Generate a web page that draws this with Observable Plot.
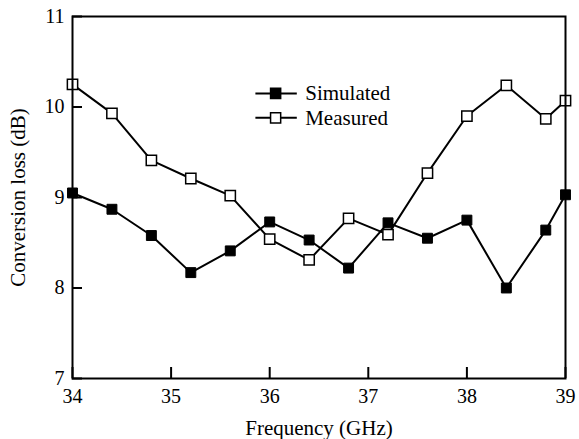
<!DOCTYPE html>
<html>
<head>
<meta charset="utf-8">
<script src="https://cdn.jsdelivr.net/npm/d3@7"></script>
<script src="https://cdn.jsdelivr.net/npm/@observablehq/plot@0.6"></script>
<style>
  html, body { margin: 0; padding: 0; background: #fff; }
  #chart svg { display: block; }
</style>
</head>
<body>
<div id="chart"></div>
<script>
const frequency = [34, 34.4, 34.8, 35.2, 35.6, 36, 36.4, 36.8, 37.2, 37.6, 38, 38.4, 38.8, 39];
const simulated = [9.05, 8.87, 8.58, 8.17, 8.41, 8.73, 8.53, 8.22, 8.72, 8.55, 8.75, 8.00, 8.64, 9.03];
const measured  = [10.25, 9.93, 9.41, 9.21, 9.02, 8.54, 8.31, 8.77, 8.59, 9.27, 9.90, 10.24, 9.87, 10.07];
const xTicks = [34, 35, 36, 37, 38, 39];
const yTicks = [7, 8, 9, 10, 11];
const seriesNames = ["Simulated", "Measured"];

const simData = frequency.map((f, i) => ({f, v: simulated[i]}));
const meaData = frequency.map((f, i) => ({f, v: measured[i]}));

// legend anchor (data coordinates)
const legendLine = [35.86, 36.28];
const legendDotX = 36.06;
const legendTextX = 36.36;
const legendY = [10.15, 9.88];
const legend = seriesNames.map((name, i) => ({name, y: legendY[i], fill: i === 0 ? "black" : "white"}));

const chart = Plot.plot({
  width: 579,
  height: 439,
  marginLeft: 72,
  marginRight: 14,
  marginTop: 16,
  marginBottom: 61,
  style: {fontFamily: "'Liberation Serif', 'Times New Roman', serif", fontSize: "20px", background: "white", color: "black"},
  x: {domain: [34, 39]},
  y: {domain: [7, 11]},
  marks: [
    Plot.axisX(xTicks, {tickSize: 0, tickPadding: 10, fontSize: 20, label: null, tickFormat: d => String(d)}),
    Plot.axisY(yTicks, {tickSize: 0, tickPadding: 8, fontSize: 20, label: null, tickFormat: d => String(d)}),
    Plot.ruleX(xTicks, {x: d => d, y1: 7, y2: 7, insetTop: -11, stroke: "black", strokeWidth: 2}),
    Plot.ruleY(yTicks, {y: d => d, x1: 34, x2: 34, insetRight: -10, stroke: "black", strokeWidth: 2}),
    Plot.line(simData, {x: "f", y: "v", stroke: "black", strokeWidth: 2}),
    Plot.line(meaData, {x: "f", y: "v", stroke: "black", strokeWidth: 2}),
    Plot.dot(simData, {x: "f", y: "v", symbol: "square", r: 5.6, fill: "black", stroke: "black", strokeWidth: 1}),
    Plot.dot(meaData, {x: "f", y: "v", symbol: "square", r: 5.8, fill: "white", stroke: "black", strokeWidth: 1.5}),
    // legend
    Plot.ruleY(legend, {y: "y", x1: legendLine[0], x2: legendLine[1], stroke: "black", strokeWidth: 2}),
    Plot.dot(legend, {x: legendDotX, y: "y", symbol: "square", r: 5.7, fill: "fill", stroke: "black", strokeWidth: 1.5}),
    Plot.text(legend, {x: legendTextX, y: "y", text: "name", textAnchor: "start", fontSize: 21, fill: "black"}),
    // axis labels
    Plot.text(["Frequency (GHz)"], {frameAnchor: "bottom", textAnchor: "middle", lineAnchor: "middle", dy: 50, fontSize: 21, fill: "black"}),
    Plot.text(["Conversion loss (dB)"], {frameAnchor: "left", textAnchor: "middle", lineAnchor: "middle", dx: -54, rotate: -90, fontSize: 21, fill: "black"}),
    Plot.frame({stroke: "black", strokeWidth: 2})
  ]
});
document.getElementById("chart").appendChild(chart);
</script>
</body>
</html>
